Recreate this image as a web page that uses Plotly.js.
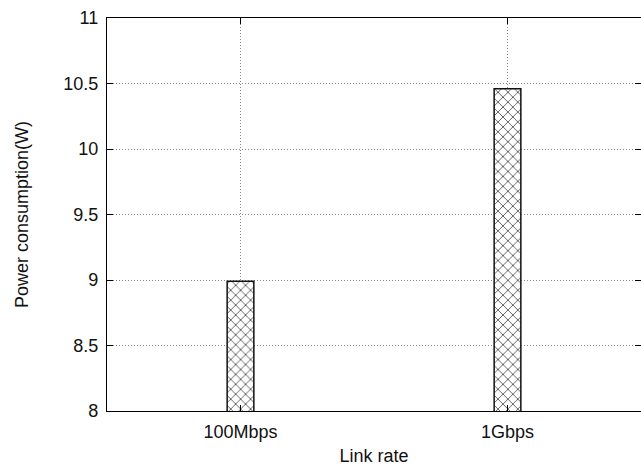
<!DOCTYPE html>
<html><head><meta charset="utf-8">
<script src="https://cdn.plot.ly/plotly-3.0.1.min.js"></script>
<style>html,body{margin:0;padding:0;background:#fff}</style>
</head><body><div id="chart" style="width:641px;height:466px"></div>
<script>
const categories = ["100Mbps", "1Gbps"];
const powerValues = [8.99, 10.46];
const yTickVals = [8, 8.5, 9, 9.5, 10, 10.5, 11];
const yTickText = ["8", "8.5", "9", "9.5", "10", "10.5", "11"];

const trace = {
  type: "bar",
  x: categories,
  y: powerValues,
  width: 0.1,
  marker: {
    color: "#ffffff",
    line: {color: "#111111", width: 1.5},
    pattern: {shape: "x", fgcolor: "#333333", bgcolor: "#ffffff", size: 7, solidity: 0.2}
  },
  hoverinfo: "skip"
};

const layout = {
  width: 641, height: 466,
  margin: {l: 107, r: 0, t: 18, b: 55},
  paper_bgcolor: "#ffffff", plot_bgcolor: "#ffffff",
  font: {family: "Liberation Sans, Arial, sans-serif", size: 18, color: "#111"},
  showlegend: false,
  bargap: 0,
  xaxis: {
    type: "category", range: [-0.5, 1.5],
    showline: true, linecolor: "#000", linewidth: 1.2, mirror: "ticks",
    ticks: "inside", ticklen: 6, tickcolor: "#000",
    showgrid: true, gridcolor: "#888", griddash: "1px,2px", gridwidth: 1,
    title: {text: "Link rate", font: {size: 18}, standoff: 8},
    tickfont: {size: 18}, ticklabelstandoff: 4
  },
  yaxis: {
    range: [8, 11], tickvals: yTickVals, ticktext: yTickText,
    showline: true, linecolor: "#000", linewidth: 1.2, mirror: "ticks",
    ticks: "inside", ticklen: 6, tickcolor: "#000",
    showgrid: true, gridcolor: "#888", griddash: "1px,2px", gridwidth: 1,
    zeroline: false,
    title: {text: "Power consumption(W)", font: {size: 18}, standoff: 29},
    tickfont: {size: 18}, ticklabelstandoff: 4
  }
};

Plotly.newPlot("chart", [trace], layout, {staticPlot: true, displayModeBar: false});
</script></body></html>
